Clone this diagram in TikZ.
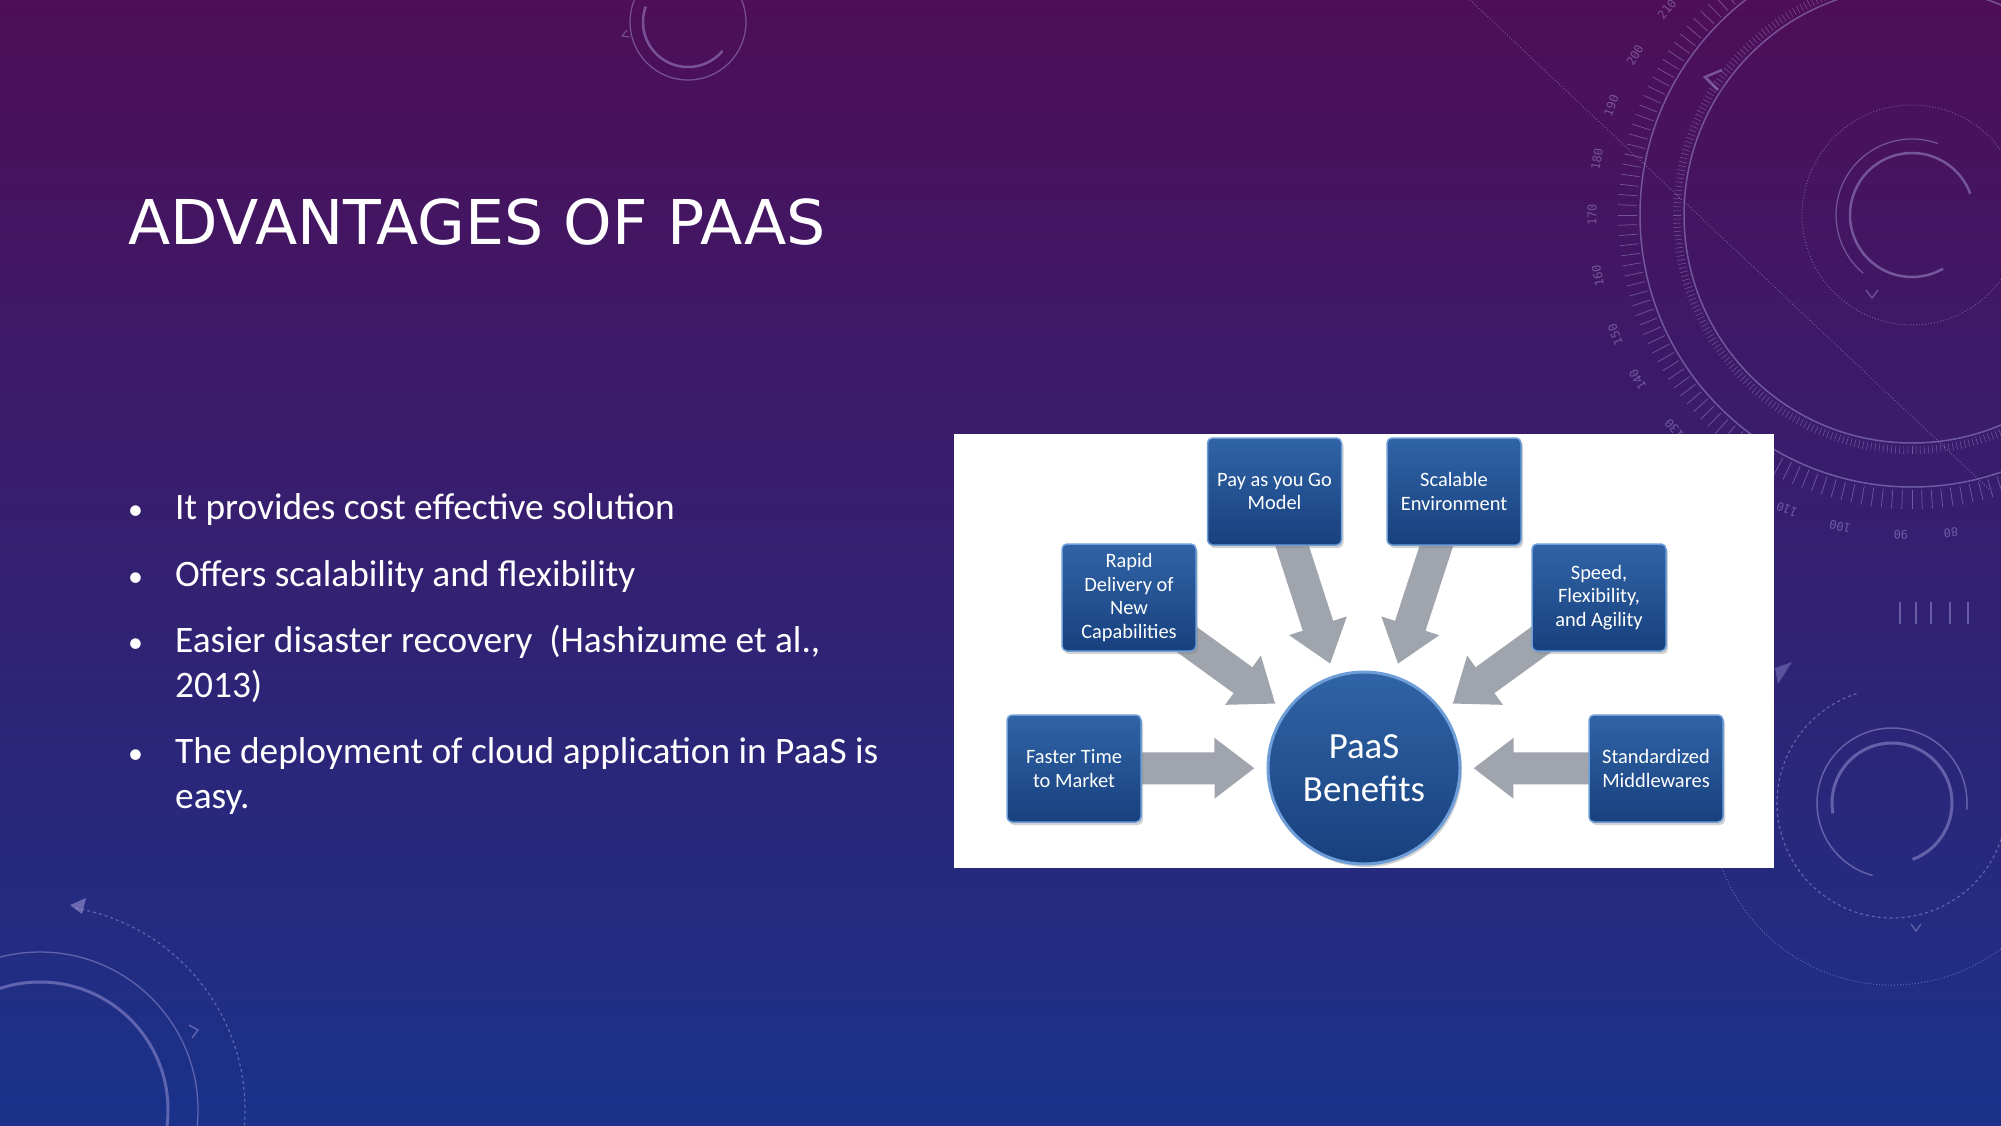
\documentclass[tikz,border=0pt]{standalone}
\usepackage{fontspec}
\setmainfont{Carlito}
\newfontfamily\titlefont{DejaVu Sans}
\newfontfamily\hudfont{DejaVu Sans Mono}
\usetikzlibrary{arrows.meta,shadows}

\pgfdeclarelayer{back}
\pgfdeclarelayer{mid}
\pgfsetlayers{back,mid,main}

\definecolor{slidetop}{RGB}{78,14,88}
\definecolor{slidemid}{RGB}{50,30,118}
\definecolor{slidebot}{RGB}{26,50,138}
\definecolor{hudline}{RGB}{175,165,225}
\definecolor{boxtop}{RGB}{48,100,166}
\definecolor{boxbot}{RGB}{24,64,126}
\definecolor{boxrim}{RGB}{110,158,215}
\definecolor{arrowgray}{RGB}{160,164,172}

\tikzset{
  benefit/.style={rectangle, rounded corners=5bp, top color=boxtop, bottom color=boxbot,
    draw=boxrim, line width=1.5bp, minimum width=134bp, minimum height=107bp,
    text=white, align=center, font=\fontsize{20.5}{23.5}\selectfont, inner sep=2bp,
    drop shadow={opacity=0.35, shadow xshift=2bp, shadow yshift=-3bp}},
  hubnode/.style={circle, minimum size=192bp, inner sep=0pt, top color=boxtop,
    bottom color=boxbot, draw=boxrim, line width=3bp, text=white, align=center,
    font=\fontsize{37}{43}\selectfont,
    drop shadow={opacity=0.35, shadow xshift=2bp, shadow yshift=-3bp}},
  bigarrow/.style={line width=32bp, draw=arrowgray, -{Triangle[length=40bp,width=58bp]}, shorten >=12bp},
  hud/.style={draw=hudline, opacity=0.45},
  hudtext/.style={text=hudline, opacity=0.45, font=\hudfont\fontsize{12}{12}\selectfont, inner sep=0pt},
  item/.style={anchor=base west, text=white, align=left, font=\fontsize{37.5}{45}\selectfont, inner sep=0pt},
  dot/.style={anchor=base west, text=white, font=\fontsize{30}{34}\selectfont, inner sep=0pt},
}

\begin{document}
\begin{tikzpicture}[x=1bp, y=-1bp]
  \useasboundingbox (0,0) rectangle (2001,1125);

  % slide background
  \begin{pgfonlayer}{back}
    \clip (0,0) rectangle (2001,1125);
    \shade[top color=slidetop, middle color=slidemid, bottom color=slidebot] (0,0) rectangle (2001,1125);

    % hud, top right
    \coordinate (hudR) at (1912,215);
    \draw[hud, line width=1.5bp] (hudR) circle (272);
    \draw[hud, line width=1.5bp] (hudR) circle (228);
    \foreach \a in {90,92,...,350}
      \draw[hud, line width=0.7bp, shift={(hudR)}] (-\a:275) -- (-\a:294);
    \foreach \a in {100,101,...,330}
      \draw[hud, line width=0.5bp, shift={(hudR)}] (-\a:231) -- (-\a:239);
    \foreach \v/\a in {80/277,90/268,100/257,110/247,120/232,130/222,140/211,150/202,160/191,170/180,180/170,190/160,200/150,210/140}
      \node[hudtext, rotate={\a-90}] at ([shift={(hudR)}] -\a:320) {\v};
    \draw[hud, dotted, line width=1bp] (hudR) circle (110);
    \draw[hud, line width=2.5bp] ([shift={(hudR)}] -20:62) arc[start angle=-20, end angle=-300, radius=62];
    \draw[hud, line width=1.2bp] ([shift={(hudR)}] -70:76) arc[start angle=-70, end angle=-230, radius=76];
    \draw[hud, dotted, line width=1bp] (1470,0) -- (1990,490);
    \draw[hud, line width=2.5bp] (1722,70) -- (1705,77) -- (1718,90);
    \draw[hud, line width=1.2bp] (1866,290) -- (1872,298) -- (1878,290);
    \foreach \x in {1900,1916,1931,1950,1968}
      \draw[hud, line width=1.2bp] (\x,602) -- (\x,624);

    % hud, top centre
    \draw[hud, line width=1.2bp] (688,22) circle (58);
    \draw[hud, line width=2.5bp] ([shift={(688,22)}] -160:45) arc[start angle=-160, end angle=-320, radius=45];
    \draw[hud, line width=1bp] (627,30) -- (622,36) -- (630,37);

    % hud, bottom left
    \draw[hud, line width=3bp] (40,1110) circle (128);
    \draw[hud, line width=1.3bp] (40,1110) circle (158);
    \draw[hud, dashed, line width=1.2bp] ([shift={(40,1110)}] -80:205) arc[start angle=-80, end angle=5, radius=205];
    \fill[hudline, opacity=0.5] (70,905) -- (86,898) -- (82,914) -- cycle;
    \draw[hud, line width=1.5bp] (189,1025) -- (198,1030) -- (192,1038);

    % hud, bottom right
    \draw[hud, line width=3bp] ([shift={(1892,803)}] -190:60) arc[start angle=-190, end angle=70, radius=60];
    \draw[hud, line width=1.5bp] ([shift={(1892,803)}] 5:75) arc[start angle=5, end angle=-255, radius=75];
    \draw[hud, dashed, line width=1.2bp] ([shift={(1892,803)}] -108:115) arc[start angle=-108, end angle=-370, radius=115];
    \draw[hud, dotted, line width=1bp] ([shift={(1892,803)}] -200:182) arc[start angle=-200, end angle=-320, radius=182];
    \draw[hud, line width=1.3bp] (1911,924) -- (1916,931) -- (1921,924);
    \fill[hudline, opacity=0.35] (1775,668) -- (1792,662) -- (1778,684) -- cycle;

    % picture panel
    \fill[white] (954,434) rectangle (1774,868);
  \end{pgfonlayer}

  % title and bullets
  \node[anchor=base west, text=white, inner sep=0pt, font=\titlefont\fontsize{62}{72}\selectfont] (title) at (128,244) {ADVANTAGES OF PAAS};

  \node[dot] (d1) at (128,519) {•};
  \node[item] (i1) at (175,519) {It provides cost effective solution};
  \node[dot] (d2) at (128,586) {•};
  \node[item] (i2) at (175,586) {Offers scalability and flexibility};
  \node[dot] (d3) at (128,652) {•};
  \node[item] (i3) at (175,697) {Easier disaster recovery\ \ (Hashizume et al.,\\2013)};
  \node[dot] (d4) at (128,763) {•};
  \node[item] (i4) at (175,808) {The deployment of cloud application in PaaS is\\easy.};

  % benefits diagram
  \node[hubnode] (hub) at (1364,768) {PaaS\\Benefits};
  \node[benefit] (pay) at (1274.5,491.5) {Pay as you Go\\Model};
  \node[benefit] (scal) at (1454,491.5) {Scalable\\Environment};
  \node[benefit] (rapid) at (1129,597.5) {Rapid\\Delivery of\\New\\Capabilities};
  \node[benefit] (speed) at (1599,597.5) {Speed,\\Flexibility,\\and Agility};
  \node[benefit] (faster) at (1074,768.5) {Faster Time\\to Market};
  \node[benefit] (std) at (1656,768.5) {Standardized\\Middlewares};

  \begin{pgfonlayer}{mid}
    \foreach \src in {pay,scal,rapid,speed,faster,std}
      \draw[bigarrow] (\src.center) -- (hub);
  \end{pgfonlayer}

\end{tikzpicture}
\end{document}
